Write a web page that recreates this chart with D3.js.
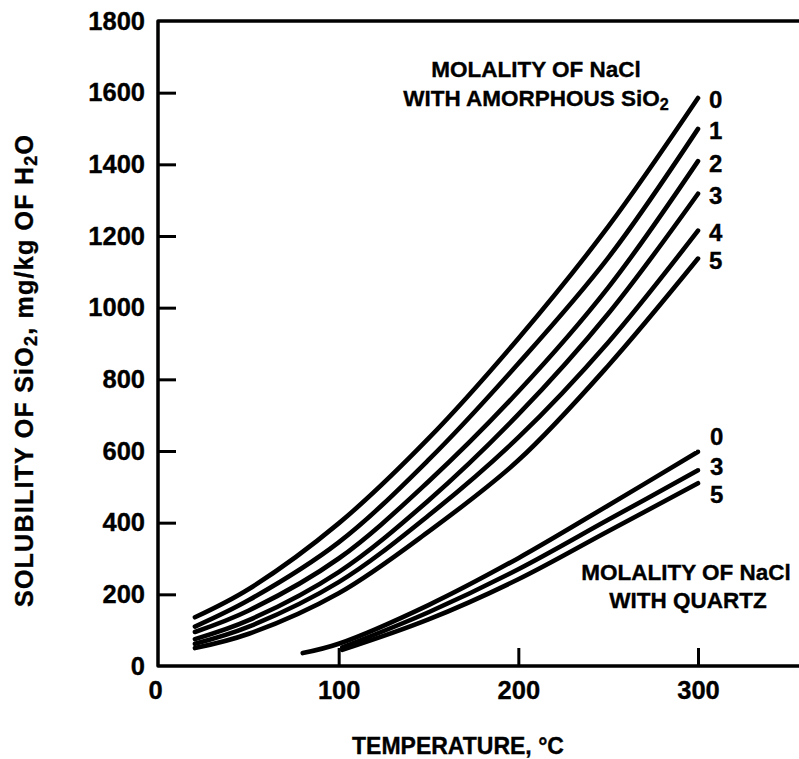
<!DOCTYPE html>
<html>
<head>
<meta charset="utf-8">
<script src="https://cdn.jsdelivr.net/npm/d3@7"></script>
<style>
   body { margin: 0; background: #fff; }
   text {
      font-family: "Liberation Sans", Arial, sans-serif;
      font-weight: bold;
      fill: #000;
      stroke: #000;
      stroke-width: 0.35px;
   }
</style>
</head>
<body>
<div id="chart"></div>
<script>
// temperatures (deg C) where the curves were read
const amorphousTemps = [20, 50, 100, 150, 200, 250, 300];
const quartzTemps0 = [80, 100, 150, 200, 250, 300];
const quartzTemps = [102, 150, 200, 250, 300];

// solubility of SiO2 (mg/kg H2O) with amorphous silica, per NaCl molality
const amorphousLabels = ['0', '1', '2', '3', '4', '5'];
const amorphous0 = [136, 215, 398, 635, 914, 1226, 1585];
const amorphous1 = [110, 184, 345, 575, 844, 1139, 1499];
const amorphous2 = [95, 155, 300, 515, 766, 1056, 1409];
const amorphous3 = [75, 128, 262, 462, 702, 983, 1318];
const amorphous4 = [62, 110, 234, 420, 638, 903, 1215];
const amorphous5 = [50, 90, 203, 375, 574, 838, 1137];

// solubility with quartz
const quartzLabels = ['0', '3', '5'];
const quartz0 = [36, 62, 170, 301, 448, 598];
const quartz3 = [52, 150, 270, 408, 546];
const quartz5 = [45, 130, 242, 376, 510];

const yTicks = [0, 200, 400, 600, 800, 1000, 1200, 1400, 1600, 1800];
const xTicks = [0, 100, 200, 300];

const width = 799;
const height = 759;
const tickFont = 25.5;

const svg = d3
   .select('#chart')
   .append('svg')
   .attr('width', width)
   .attr('height', height);

const xScale = d3.scaleLinear().domain([0, 300]).range([159, 698]);
const yScale = d3.scaleLinear().domain([0, 1800]).range([666, 21]);

// y axis, ticks pointing into the plot
const yAxisG = svg
   .append('g')
   .attr('transform', `translate(${xScale(0)},0)`)
   .call(
      d3.axisLeft(yScale)
         .tickValues(yTicks)
         .tickSizeInner(-17)
         .tickSizeOuter(0)
         .tickPadding(14)
         .tickFormat(d3.format('d'))
   );
yAxisG.select('.domain').remove();
yAxisG.selectAll('.tick line')
   .filter((d) => d === 0 || d === 1800)
   .remove();
yAxisG.selectAll('.tick line').attr('stroke', '#000').attr('stroke-width', 3);
yAxisG.selectAll('.tick text')
   .attr('font-size', tickFont)
   .attr('font-family', '"Liberation Sans", Arial, sans-serif')
   .attr('font-weight', 'bold');

const xAxisG = svg
   .append('g')
   .attr('transform', `translate(0,${yScale(0)})`)
   .call(
      d3.axisBottom(xScale)
         .tickValues(xTicks)
         .tickSizeInner(-18)
         .tickSizeOuter(0)
         .tickPadding(15)
   );
xAxisG.select('.domain').remove();
xAxisG.selectAll('.tick line').filter((d) => d === 0).remove();
xAxisG.selectAll('.tick line').attr('stroke', '#000').attr('stroke-width', 3);
xAxisG.selectAll('.tick text')
   .attr('font-size', tickFont)
   .attr('font-family', '"Liberation Sans", Arial, sans-serif')
   .attr('font-weight', 'bold');
xAxisG.selectAll('.tick text').filter((d) => d === 0).attr('dx', -4);

// frame: left, bottom and top lines
svg.append('path')
   .attr('fill', 'none')
   .attr('stroke', '#000')
   .attr('stroke-width', 3.5)
   .attr('stroke-linejoin', 'round')
   .attr('d', `M${width},${yScale(0)}H${xScale(0) - 1}V${yScale(1800)}H${width}`);

const line = d3
   .line()
   .x((d) => xScale(d[0]))
   .y((d) => yScale(d[1]))
   .curve(d3.curveCatmullRom.alpha(0.5));

const amorphousSeries = [amorphous0, amorphous1, amorphous2, amorphous3, amorphous4, amorphous5]
   .map((vals) => vals.map((v, i) => [amorphousTemps[i], v]));
const quartzSeries = [
   quartz0.map((v, i) => [quartzTemps0[i], v]),
   quartz3.map((v, i) => [quartzTemps[i], v]),
   quartz5.map((v, i) => [quartzTemps[i], v]),
];

const curves = svg.append('g').attr('class', 'curves');
curves
   .selectAll('.curve')
   .data(amorphousSeries.concat(quartzSeries))
   .join('path')
   .attr('class', 'curve')
   .attr('fill', 'none')
   .attr('stroke', '#000')
   .attr('stroke-width', 4.6)
   .attr('stroke-linecap', 'round')
   .attr('d', line);

// curve end labels
svg.selectAll('.amorph-label')
   .data(amorphousSeries)
   .join('text')
   .attr('class', 'amorph-label')
   .attr('x', xScale(300) + 11)
   .attr('y', (d) => yScale(d[d.length - 1][1]) + 2)
   .attr('dy', '0.35em')
   .attr('font-size', 24)
   .text((d, i) => amorphousLabels[i]);

const quartzOffsets = [-15, -4, 11];
svg.selectAll('.quartz-label')
   .data(quartzSeries)
   .join('text')
   .attr('class', 'quartz-label')
   .attr('x', xScale(300) + 12)
   .attr('y', (d, i) => yScale(d[d.length - 1][1]) + quartzOffsets[i])
   .attr('dy', '0.35em')
   .attr('font-size', 24)
   .text((d, i) => quartzLabels[i]);

// text with subscript parts: [[string, isSub], ...]
function richText(sel, parts, size) {
   parts.forEach((p, i) => {
      const prevSub = i > 0 && parts[i - 1][1];
      const t = sel.append('tspan').text(p[0]);
      if (p[1]) {
         t.attr('font-size', size * 0.72).attr('dy', size * 0.18);
      } else if (prevSub) {
         t.attr('dy', -size * 0.18);
      }
   });
   return sel;
}

const noteSize = 22.5;
svg.append('text')
   .attr('x', 536)
   .attr('y', 69)
   .attr('dy', '0.35em')
   .attr('text-anchor', 'middle')
   .attr('font-size', noteSize)
   .text('MOLALITY OF NaCl');
richText(
   svg.append('text')
      .attr('x', 536)
      .attr('y', 98)
      .attr('dy', '0.35em')
      .attr('text-anchor', 'middle')
      .attr('font-size', noteSize),
   [['WITH AMORPHOUS SiO', false], ['2', true]],
   noteSize
);

svg.append('text')
   .attr('x', 686)
   .attr('y', 572)
   .attr('dy', '0.35em')
   .attr('text-anchor', 'middle')
   .attr('font-size', noteSize)
   .text('MOLALITY OF NaCl');
svg.append('text')
   .attr('x', 688)
   .attr('y', 600)
   .attr('dy', '0.35em')
   .attr('text-anchor', 'middle')
   .attr('font-size', noteSize)
   .text('WITH QUARTZ');

// axis titles
svg.append('text')
   .attr('x', 458)
   .attr('y', 746)
   .attr('dy', '0.35em')
   .attr('text-anchor', 'middle')
   .attr('font-size', 23)
   .text('TEMPERATURE, °C');

richText(
   svg.append('text')
      .attr('transform', 'translate(24,371) rotate(-90)')
      .attr('dy', '0.35em')
      .attr('text-anchor', 'middle')
      .attr('font-size', 25)
      .attr('textLength', 472)
      .attr('lengthAdjust', 'spacing'),
   [['SOLUBILITY OF SiO', false], ['2', true], [', mg/kg OF H', false], ['2', true], ['O', false]],
   25
);
</script>
</body>
</html>
